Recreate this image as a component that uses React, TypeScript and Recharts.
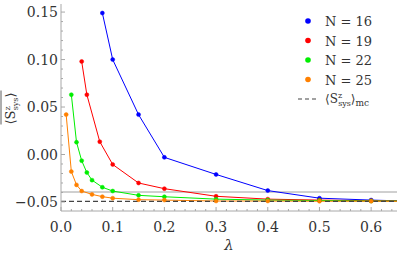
import React from "react";
import { Legend, Line, LineChart, ReferenceLine, XAxis, YAxis } from "recharts";

// values
const lam16 = [0.08, 0.1, 0.15, 0.2, 0.3, 0.4, 0.5, 0.6, 0.7];
const sz16 = [0.149, 0.1, 0.042, -0.003, -0.021, -0.038, -0.046, -0.048, -0.0495];

const lam19 = [0.04, 0.05, 0.075, 0.1, 0.15, 0.2, 0.3, 0.4, 0.5, 0.6, 0.7];
const sz19 = [0.098, 0.063, 0.0135, -0.0105, -0.03, -0.036, -0.044, -0.047, -0.048, -0.0487, -0.049];

const lam22 = [0.02, 0.03, 0.04, 0.05, 0.06, 0.08, 0.1, 0.15, 0.2, 0.3, 0.4, 0.5, 0.6, 0.7];
const sz22 = [0.063, 0.013, -0.0065, -0.019, -0.027, -0.0345, -0.0385, -0.043, -0.0445, -0.047, -0.048, -0.0485, -0.049, -0.049];

const lam25 = [0.01, 0.02, 0.03, 0.04, 0.06, 0.08, 0.1, 0.15, 0.2, 0.3, 0.4, 0.5, 0.6, 0.7];
const sz25 = [0.042, -0.018, -0.032, -0.0385, -0.042, -0.0444, -0.046, -0.0476, -0.048, -0.049, -0.049, -0.0492, -0.0492, -0.0493];

const SZ_MC = -0.0493;
const SZ_REF = -0.0395;

const xMajor = [0, 0.1, 0.2, 0.3, 0.4, 0.5, 0.6];
const yMajor = [-0.05, 0, 0.05, 0.1, 0.15];

const X_DOMAIN: [number, number] = [0, 0.65];
const Y_DOMAIN: [number, number] = [-0.0595, 0.1585];

const xTicks: number[] = [];
for (let i = 0; i <= 32; i++) xTicks.push(+(i * 0.02).toFixed(2));
const yTicks: number[] = [];
for (let i = -5; i <= 15; i++) yTicks.push(+(i * 0.01).toFixed(2));

const zip = (xs: number[], ys: number[]) => xs.map((x, i) => ({ x, y: ys[i] }));

const SERIES = [
  { name: "N = 16", color: "#0000ff", data: zip(lam16, sz16) },
  { name: "N = 19", color: "#ff0000", data: zip(lam19, sz19) },
  { name: "N = 22", color: "#00ee00", data: zip(lam22, sz22) },
  { name: "N = 25", color: "#ff8000", data: zip(lam25, sz25) },
];

const FONT = '"DejaVu Serif", "Liberation Serif", serif';
const FRAME = "#a8a8a8";
const TEXT = "#333";
const txt = (size: number, extra: React.CSSProperties = {}): React.CSSProperties => ({
  fontFamily: FONT,
  fontSize: size,
  ...extra,
});

const isMajor = (v: number, list: number[]) => list.some((m) => Math.abs(m - v) < 1e-6);

const fmt = (v: number, digits: number) => {
  const s = Math.abs(v).toFixed(digits);
  return v < -1e-9 ? "\u2212" + s : s;
};

const BottomTick = (props: any) => {
  const { x, y, payload } = props;
  const major = isMajor(payload.value, xMajor);
  return (
    <g>
      <line x1={x} x2={x} y1={y} y2={y - (major ? 4 : 2)} stroke={FRAME} />
      {major ? (
        <text x={x} y={y + 21} textAnchor="middle" style={txt(14)} fill={TEXT}>
          {fmt(payload.value, 1)}
        </text>
      ) : null}
    </g>
  );
};

const TopTick = (props: any) => {
  const { x, y, payload } = props;
  const major = isMajor(payload.value, xMajor);
  return <line x1={x} x2={x} y1={y} y2={y + (major ? 4 : 2)} stroke={FRAME} />;
};

const LeftTick = (props: any) => {
  const { x, y, payload } = props;
  const major = isMajor(payload.value, yMajor);
  return (
    <g>
      <line x1={x} x2={x + (major ? 4 : 2)} y1={y} y2={y} stroke={FRAME} />
      {major ? (
        <text x={x - 3} y={y + 5} textAnchor="end" style={txt(14)} fill={TEXT}>
          {fmt(payload.value, 2)}
        </text>
      ) : null}
    </g>
  );
};

const RightTick = (props: any) => {
  const { x, y, payload } = props;
  const major = isMajor(payload.value, yMajor);
  return <line x1={x} x2={x - (major ? 4 : 2)} y1={y} y2={y} stroke={FRAME} />;
};

const SzText = ({ x, y, size, mc }: { x: number; y: number; size: number; mc?: boolean }) => (
  <text x={x} y={y} style={txt(size)} fill={TEXT}>
    <tspan>{"\u27e8S"}</tspan>
    <tspan dy={-5} style={txt(8)}>z</tspan>
    <tspan dx={-4} dy={8} style={txt(8)}>sys</tspan>
    <tspan dy={-3}>{"\u27e9"}</tspan>
    {mc ? (
      <tspan dy={3} style={txt(9)}>mc</tspan>
    ) : null}
  </text>
);

const YLabel = (props: any) => {
  const vb = props.viewBox || { x: 0, y: 0, width: 61, height: 207 };
  const cx = vb.x + 11;
  const cy = vb.y + vb.height / 2;
  return (
    <g transform={`translate(${cx},${cy}) rotate(-90)`}>
      <line x1={-17} x2={17} y1={-10} y2={-10} stroke={TEXT} strokeWidth={0.8} />
      <SzText x={-17} y={4} size={13} />
    </g>
  );
};

const LegendBox = () => (
  <svg width={109} height={108} style={{ display: "block" }}>
    {SERIES.map((s, i) => (
      <g key={s.name}>
        <circle cx={18} cy={15 + i * 19.5} r={2.8} fill={s.color} />
        <text x={35} y={20 + i * 19.5} style={txt(13)} fill={TEXT}>
          {s.name}
        </text>
      </g>
    ))}
    <line x1={8} x2={29} y1={93} y2={93} stroke="#444" strokeWidth={1.2} strokeDasharray="4 3" />
    <SzText x={35} y={97} size={12} mc />
  </svg>
);

export default function App() {
  return (
    <div style={{ position: "absolute", left: 0, top: 0, width: 399, height: 257, background: "#fff" }}>
      <LineChart width={399} height={257} margin={{ top: 4, right: 2, left: 0, bottom: 0 }}>
        <XAxis
          dataKey="x"
          type="number"
          domain={X_DOMAIN}
          allowDataOverflow
          ticks={xTicks}
          interval={0}
          tick={<BottomTick />}
          tickSize={0}
          tickMargin={0}
          tickLine={false}
          axisLine={{ stroke: FRAME }}
          height={46}
          label={{ value: "\u03bb", position: "insideBottom", offset: 7, style: txt(15, { fontStyle: "italic" }), fill: TEXT }}
        />
        <XAxis
          xAxisId="top"
          orientation="top"
          dataKey="x"
          type="number"
          domain={X_DOMAIN}
          allowDataOverflow
          ticks={xTicks}
          interval={0}
          tick={<TopTick />}
          tickSize={0}
          tickMargin={0}
          tickLine={false}
          axisLine={{ stroke: FRAME }}
          height={0}
        />
        <YAxis
          type="number"
          domain={Y_DOMAIN}
          allowDataOverflow
          ticks={yTicks}
          interval={0}
          tick={<LeftTick />}
          tickSize={0}
          tickMargin={0}
          tickLine={false}
          axisLine={{ stroke: FRAME }}
          width={61}
          label={<YLabel />}
        />
        <YAxis
          yAxisId="right"
          orientation="right"
          type="number"
          domain={Y_DOMAIN}
          allowDataOverflow
          ticks={yTicks}
          interval={0}
          tick={<RightTick />}
          tickSize={0}
          tickMargin={0}
          tickLine={false}
          axisLine={{ stroke: FRAME }}
          width={0}
        />
        <ReferenceLine y={SZ_REF} stroke="#a0a0a0" strokeWidth={1} />
        {SERIES.map((s) => (
          <Line
            key={s.name}
            data={s.data}
            dataKey="y"
            name={s.name}
            type="linear"
            stroke={s.color}
            strokeWidth={1}
            dot={{ r: 2, fill: s.color, stroke: s.color, strokeWidth: 0.5 }}
            activeDot={false}
            isAnimationActive={false}
          />
        ))}
        <ReferenceLine y={SZ_MC} stroke="#444" strokeWidth={1.2} strokeDasharray="5 3" />
        <Legend
          layout="vertical"
          align="center"
          verticalAlign="middle"
          width={109}
          wrapperStyle={{ position: "absolute", left: 290, top: 6, width: 109, height: 108 }}
          content={() => <LegendBox />}
        />
      </LineChart>
    </div>
  );
}
